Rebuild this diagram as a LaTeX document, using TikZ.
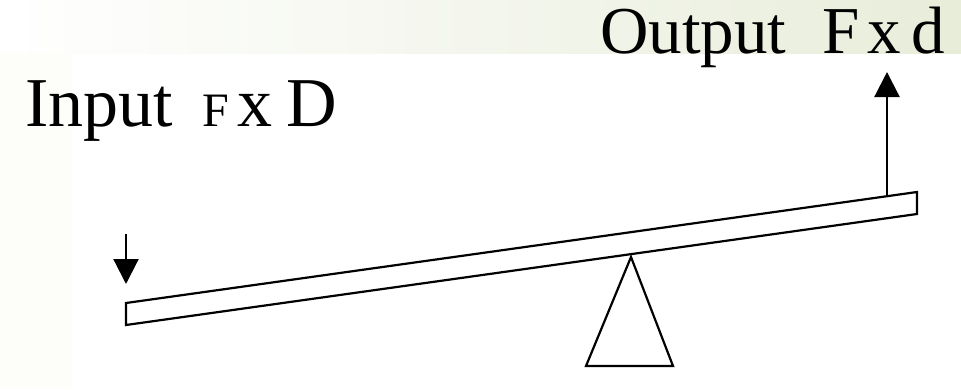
\documentclass[tikz,border=0pt]{standalone}
\usepackage{fontspec}
\setmainfont{Liberation Serif}
\usepackage{tikz}
\usetikzlibrary{arrows.meta}
\definecolor{bandgreen}{HTML}{E8EDDA}
\definecolor{bandpale}{HTML}{FDFDF9}

\begin{document}
\begin{tikzpicture}[
  x=1pt,y=-1pt,
  label/.style={inner sep=0pt,anchor=base west,font=\fontsize{70}{76}\selectfont},
  beam/.style={draw=black,line width=2.2pt,line join=miter},
  force/.style={line width=2.2pt,-{Triangle[width=25pt,length=25pt]}}
]
  % background bands
  \useasboundingbox (0,0) rectangle (961,389);
  \fill[white] (0,0) rectangle (961,389);
  \shade[left color=white,right color=bandgreen] (0,0) rectangle (961,53);
  \fill[bandpale] (0,53) rectangle (72,389);

  % labels
  \node[label] (input) at (25,126) {Input\hspace{30pt}{\fontsize{48}{52}\selectfont F}\hspace{8pt}x\hspace{14pt}D};
  \node[label,font=\fontsize{67}{72}\selectfont] (output) at (600,53) {Output\hspace{36pt}F\hspace{8pt}x\hspace{10pt}d};

  % lever and fulcrum
  \coordinate (lt) at (126,303);
  \coordinate (lb) at (126,325);
  \coordinate (rt) at (917,192);
  \coordinate (rb) at (917,214);
  \draw[beam] (lt) -- (rt) -- (rb) -- (lb) -- cycle;

  \coordinate (apex) at (631,257);
  \coordinate (baseL) at (586,366);
  \coordinate (baseR) at (673,366);
  \draw[beam] (apex) -- (baseR) -- (baseL) -- cycle;

  % forces
  \coordinate (inTop) at (126,234);
  \coordinate (inTip) at (126,284);
  \draw[force] (inTop) -- (inTip);
  \coordinate (outFoot) at (887,196);
  \coordinate (outTip) at (887,72);
  \draw[force] (outFoot) -- (outTip);
\end{tikzpicture}
\end{document}
